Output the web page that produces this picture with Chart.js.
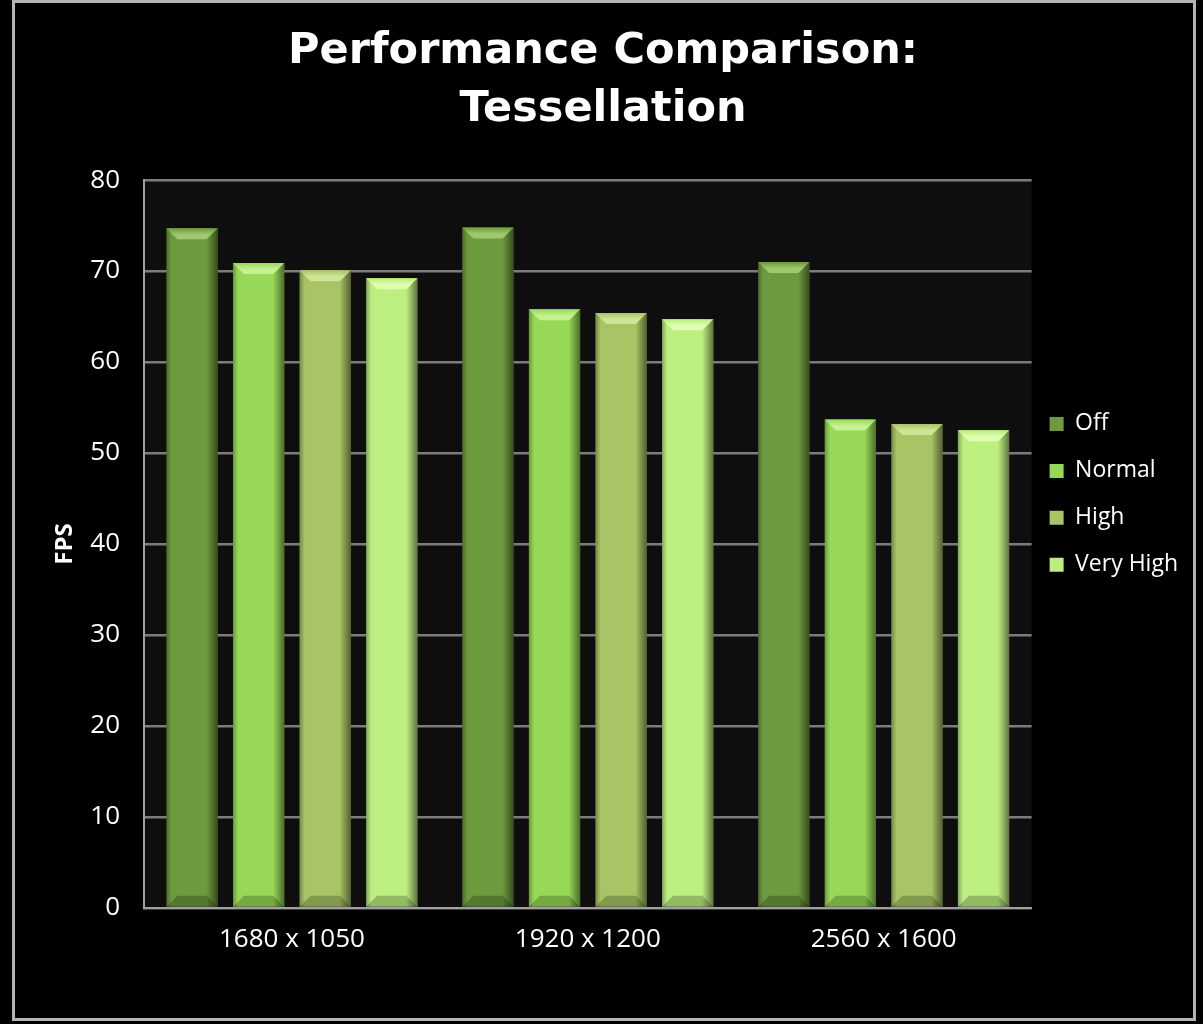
<!DOCTYPE html>
<html>
<head>
<meta charset="utf-8">
<script src="https://cdn.jsdelivr.net/npm/chart.js@4.4.1/dist/chart.umd.min.js"></script>
<style>
  html, body { margin: 0; padding: 0; background: #000; }
  #wrap { width: 1203px; height: 1024px; position: relative; }
</style>
</head>
<body>
<div id="wrap"><canvas id="fpsChart" width="1203" height="1024"></canvas></div>
<script>
// Chart data
const resolutions = ['1680 x 1050', '1920 x 1200', '2560 x 1600'];
const seriesNames = ['Off', 'Normal', 'High', 'Very High'];
const offFps = [74.7, 74.8, 71.0];
const normalFps = [70.9, 65.8, 53.7];
const highFps = [70.1, 65.4, 53.2];
const veryHighFps = [69.2, 64.7, 52.5];
const yTicks = [0, 10, 20, 30, 40, 50, 60, 70, 80];

const barColors = ['#6e9a3e', '#98d858', '#a8c464', '#bcee80'];
const capColors = ['#a0c870', '#c4f290', '#d0e498', '#e0ffb0'];

// frame, plot background and bar bevels
const decorPlugin = {
    id: 'decor',
    beforeDraw(chart) {
        const ctx = chart.ctx;
        const a = chart.chartArea;
        ctx.save();
        ctx.fillStyle = '#000';
        ctx.fillRect(0, 0, chart.width, chart.height);
        ctx.strokeStyle = '#b4b4b4';
        ctx.lineWidth = 3;
        ctx.strokeRect(13.5, 1.5, 1181, 1018);
        ctx.fillStyle = '#0e0e0e';
        ctx.fillRect(a.left, a.top, a.right - a.left, a.bottom - a.top);
        ctx.restore();
    },
    afterDatasetsDraw(chart) {
        const ctx = chart.ctx;
        chart.data.datasets.forEach((ds, i) => {
            chart.getDatasetMeta(i).data.forEach(bar => {
                const w = bar.width;
                const l = bar.x - w / 2, r = bar.x + w / 2;
                const t = bar.y, b = bar.base;
                const e = 11;
                ctx.save();
                // side shading
                let g = ctx.createLinearGradient(l, 0, r, 0);
                g.addColorStop(0, 'rgba(0,0,0,0.3)');
                g.addColorStop(0.1, 'rgba(0,0,0,0)');
                g.addColorStop(0.78, 'rgba(0,0,0,0)');
                g.addColorStop(1, 'rgba(0,0,0,0.5)');
                ctx.fillStyle = g;
                ctx.fillRect(l, t, w, b - t);
                // top cap
                let cg = ctx.createLinearGradient(0, t, 0, t + e);
                cg.addColorStop(0, barColors[i]);
                cg.addColorStop(0.6, capColors[i]);
                cg.addColorStop(1, capColors[i]);
                ctx.fillStyle = cg;
                ctx.beginPath();
                ctx.moveTo(l, t);
                ctx.lineTo(r, t);
                ctx.lineTo(r - e, t + e);
                ctx.lineTo(l + e, t + e);
                ctx.closePath();
                ctx.fill();
                // bottom edge
                ctx.fillStyle = 'rgba(0,0,0,0.22)';
                ctx.beginPath();
                ctx.moveTo(l, b);
                ctx.lineTo(r, b);
                ctx.lineTo(r - e, b - e);
                ctx.lineTo(l + e, b - e);
                ctx.closePath();
                ctx.fill();
                ctx.restore();
            });
        });
    }
};

const datasets = [offFps, normalFps, highFps, veryHighFps].map((vals, i) => ({
    label: seriesNames[i],
    data: vals,
    backgroundColor: barColors[i],
    borderWidth: 0,
    categoryPercentage: 0.9,
    barPercentage: 0.77
}));

window.onload = function() {
    new Chart(document.getElementById('fpsChart'), {
        type: 'bar',
        data: { labels: resolutions, datasets: datasets },
        plugins: [decorPlugin],
        options: {
            responsive: false,
            animation: false,
            layout: { padding: { left: 18, right: 15, top: 0, bottom: 40 } },
            plugins: {
                title: {
                    display: true,
                    text: ['Performance Comparison:', 'Tessellation'],
                    color: '#fff',
                    font: { family: 'DejaVu Sans', size: 43, weight: 'bold', lineHeight: 1.35 },
                    padding: { top: 23, bottom: 41 }
                },
                legend: {
                    position: 'right',
                    align: 'start',
                    title: { display: true, text: '', padding: { top: 380, bottom: 0 } },
                    labels: {
                        color: '#fff',
                        font: { family: 'Open Sans', size: 23, lineHeight: 1.26 },
                        boxWidth: 14,
                        boxHeight: 14,
                        padding: 18,
                        generateLabels(chart) {
                            // array text so the row height follows the font line height
                            return Chart.defaults.plugins.legend.labels.generateLabels(chart)
                                .map(item => Object.assign(item, { text: [item.text] }));
                        }
                    }
                },
                tooltip: { enabled: false }
            },
            scales: {
                x: {
                    afterFit(axis) { axis.height = 76; },
                    grid: { display: false, drawTicks: false },
                    border: { color: '#a0a0a0', width: 2 },
                    ticks: { color: '#fff', font: { family: 'Open Sans', size: 26 }, padding: 16 }
                },
                y: {
                    min: 0,
                    max: 80,
                    afterFit(axis) { axis.width = 126; },
                    afterBuildTicks(axis) { axis.ticks = yTicks.map(v => ({ value: v })); },
                    grid: { color: '#7c7c7c', lineWidth: 2.5, drawTicks: false },
                    border: { color: '#a0a0a0', width: 2 },
                    ticks: { color: '#fff', font: { family: 'Open Sans', size: 26 }, padding: 24 },
                    title: {
                        display: true,
                        text: 'FPS',
                        color: '#fff',
                        font: { family: 'Open Sans', size: 24, weight: 'bold' },
                        padding: { top: 33, bottom: 0 }
                    }
                }
            }
        }
    });
};
</script>
</body>
</html>
